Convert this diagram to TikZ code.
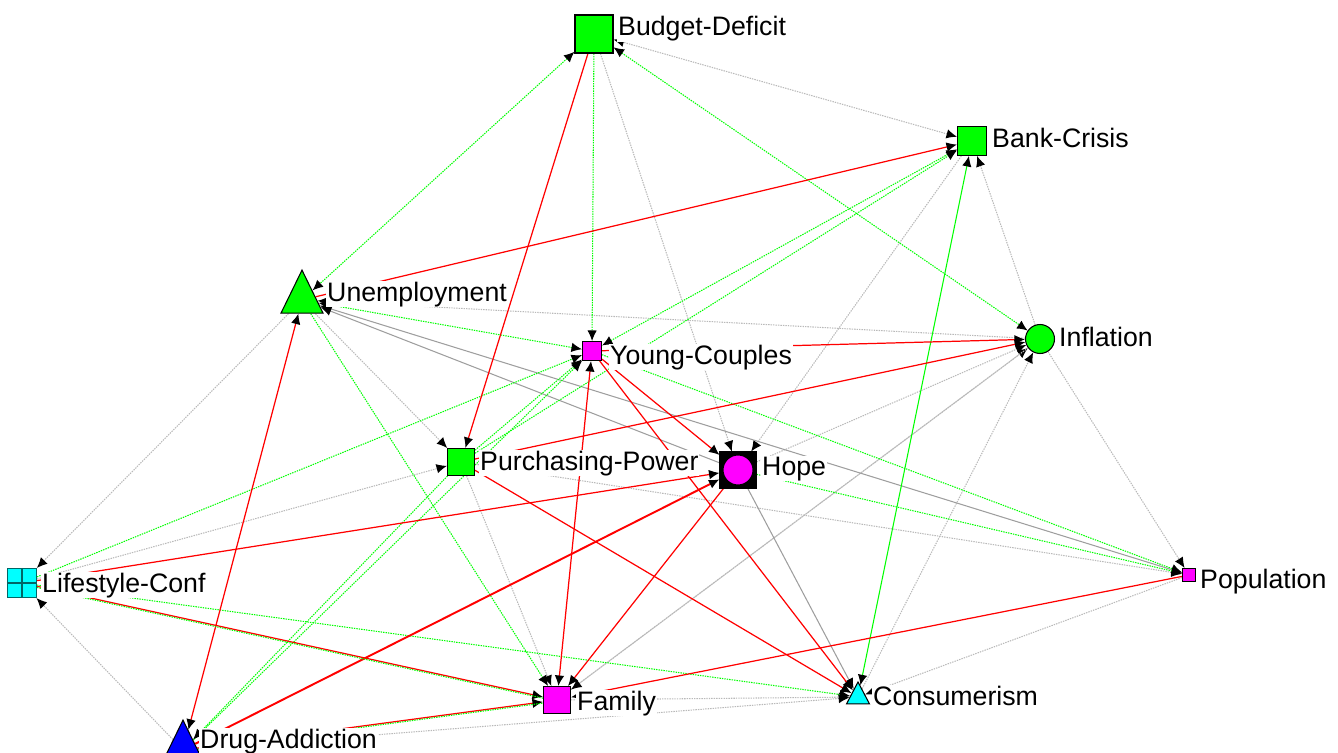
\documentclass[tikz,border=0pt]{standalone}
\usepackage{fontspec}
\setmainfont{Liberation Sans}
\usetikzlibrary{shapes.geometric,arrows.meta}
\pgfdeclarelayer{background}
\pgfsetlayers{background,main}
\definecolor{ngreen}{RGB}{0,255,0}
\definecolor{nred}{RGB}{255,0,0}
\definecolor{nmag}{RGB}{255,0,255}
\definecolor{ncyan}{RGB}{0,255,255}
\definecolor{nblue}{RGB}{0,0,255}
\definecolor{ngray}{RGB}{185,185,185}
\tikzset{
  nd/.style={draw=black, inner sep=0pt, line width=0.6pt},
  sq/.style={nd, rectangle, minimum size=#1},
  tri/.style={nd, isosceles triangle, shape border rotate=90, isosceles triangle stretches},
  lbl/.style={anchor=base west, fill=white, inner sep=0.5pt, font=\fontsize{15.2}{18}\selectfont},
  rd/.style={nred, line width=0.7pt},
  gn/.style={ngreen, line width=0.6pt, dash pattern=on 0.8pt off 0.6pt},
  gnl/.style={ngreen, line width=0.6pt},
  gy/.style={ngray, line width=0.6pt, dash pattern=on 0.8pt off 0.6pt},
  gys/.style={black!38, line width=0.6pt},
  >={Latex[length=0.21cm,width=0.19cm,color=black,fill=black]}
}

\begin{document}
\begin{tikzpicture}[x=0.02cm,y=-0.02cm]
\useasboundingbox (0,0) rectangle (1338,753);

\node[sq=0.76cm,fill=ngreen] (BD) at (594,34) {};
\node[sq=0.58cm,fill=ngreen] (BC) at (972,141) {};
\node[tri,fill=ngreen,minimum width=0.84cm,minimum height=0.86cm] (UN) at (302,300) {};
\node[sq=0.38cm,fill=nmag] (YC) at (592,351) {};
\node[nd,circle,fill=ngreen,minimum size=0.58cm] (IN) at (1040,339) {};
\node[sq=0.54cm,fill=ngreen] (PP) at (461,462) {};
\node[sq=0.72cm,fill=black] (HO) at (738,470) {};
\node[nd,circle,fill=nmag,minimum size=0.6cm] (HOc) at (HO) {};
\node[sq=0.58cm,fill=ncyan,draw=black!60!ncyan] (LC) at (22,583) {};
\draw[black!60!ncyan,line width=0.6pt] (LC.north) -- (LC.south) (LC.west) -- (LC.east);
\node[sq=0.26cm,fill=nmag] (PO) at (1189,575) {};
\node[sq=0.54cm,fill=nmag] (FA) at (557,700) {};
\node[tri,fill=ncyan,minimum width=0.46cm,minimum height=0.44cm] (CO) at (858,697) {};
\node[tri,fill=nblue,minimum width=0.84cm,minimum height=0.86cm] (DA) at (183,750) {};

\node[lbl] (BD-t) at (617,36) {Budget-Deficit};
\node[lbl] (BC-t) at (991,148) {Bank-Crisis};
\node[lbl] (UN-t) at (326,301) {Unemployment};
\node[lbl] (YC-t) at (609,364) {Young-Couples};
\node[lbl] (IN-t) at (1058,346) {Inflation};
\node[lbl] (PP-t) at (479,470) {Purchasing-Power};
\node[lbl] (HO-t) at (761,475) {Hope};
\node[lbl] (LC-t) at (41,592) {Lifestyle-Conf};
\node[lbl] (PO-t) at (1199,588) {Population};
\node[lbl] (FA-t) at (576,710) {Family};
\node[lbl] (CO-t) at (872,705) {Consumerism};
\node[lbl] (DA-t) at (199,748) {Drug-Addiction};

\begin{pgfonlayer}{background}
% gray
\path[gy,<->] (BC) edge (BD);
\path[gy,->] (BD) edge (HO);
\path[gy,->] (IN) edge (BC);
\path[gy,->] (BC) edge (HO);
\path[gy,->] (IN) edge (UN);
\path[gy,->] (UN) edge (PP);
\path[gy,->] (UN) edge (LC);
\path[gy,->] (LC) edge (PP);
\path[gy,->] (DA) edge (LC);
\path[gy,->] (HO) edge (IN);
\path[gy,->] (FA) edge (IN);
\path[gy,->] (CO) edge (IN);
\path[gy,->] (IN) edge (PO);
\path[gy,->] (PP) edge (FA);
\path[gy,->] (PP) edge (PO);
\path[gy,->] (PO) edge (CO);
\path[gy,->] (DA) edge (CO);
\path[gy,->] (IN) edge (FA);
\path[gy,->] (FA) edge (CO);
\path[gys,->] (PO) edge (UN);
\path[gys,->] (HO) edge (UN);
\path[gys,->] (HO) edge (CO);
% green
\path[gn,<->] (BD) edge (UN);
\path[gn,->] (BD) edge (YC);
\path[gn,<->] (BD) edge (IN);
\path[gn,<->] (YC) edge (BC);
\path[gn,->] (PP) edge (BC);
\path[gn,<->] (UN) edge (YC);
\path[gn,->] (UN) edge (FA);
\path[gn,->] (LC) edge (YC);
\path[gn,->] (PP) edge (YC);
\path[gn,->] (DA) edge (YC);
\path[gn,->] (PP) edge (DA);
\path[gn,->] (YC) edge (PO);
\path[gn,->] (HO) edge (PO);
\path[gn,->] (LC) edge (CO);
\path[gnl,<->] (CO) edge (BC);
% red
\path[rd,->] (BD) edge (PP);
\path[rd,->] (UN) edge (BC);
\path[rd,<->] (DA) edge (UN);
\path[rd,->] (YC) edge (IN);
\path[rd,->] (PP) edge (IN);
\path[rd,->] (YC) edge (HO);
\path[rd,->] (YC) edge (CO);
\path[rd,<->] (FA) edge (YC);
\path[rd,->] (HO) edge (FA);
\path[rd,->] (LC) edge (HO);
\path[rd,->,line width=1.1pt] (DA) edge (HO);
\path[rd,->] (PP) edge (CO);
\path[rd,->] (PO) edge (FA);
\path[rd,->] (LC) edge (FA);
\path[rd,->] (DA) edge (FA);
\path[gn,transform canvas={yshift=-0.7pt}] (LC) edge (FA);
\path[gn,transform canvas={yshift=-0.7pt}] (DA) edge (FA);
\end{pgfonlayer}

\end{tikzpicture}
\end{document}
